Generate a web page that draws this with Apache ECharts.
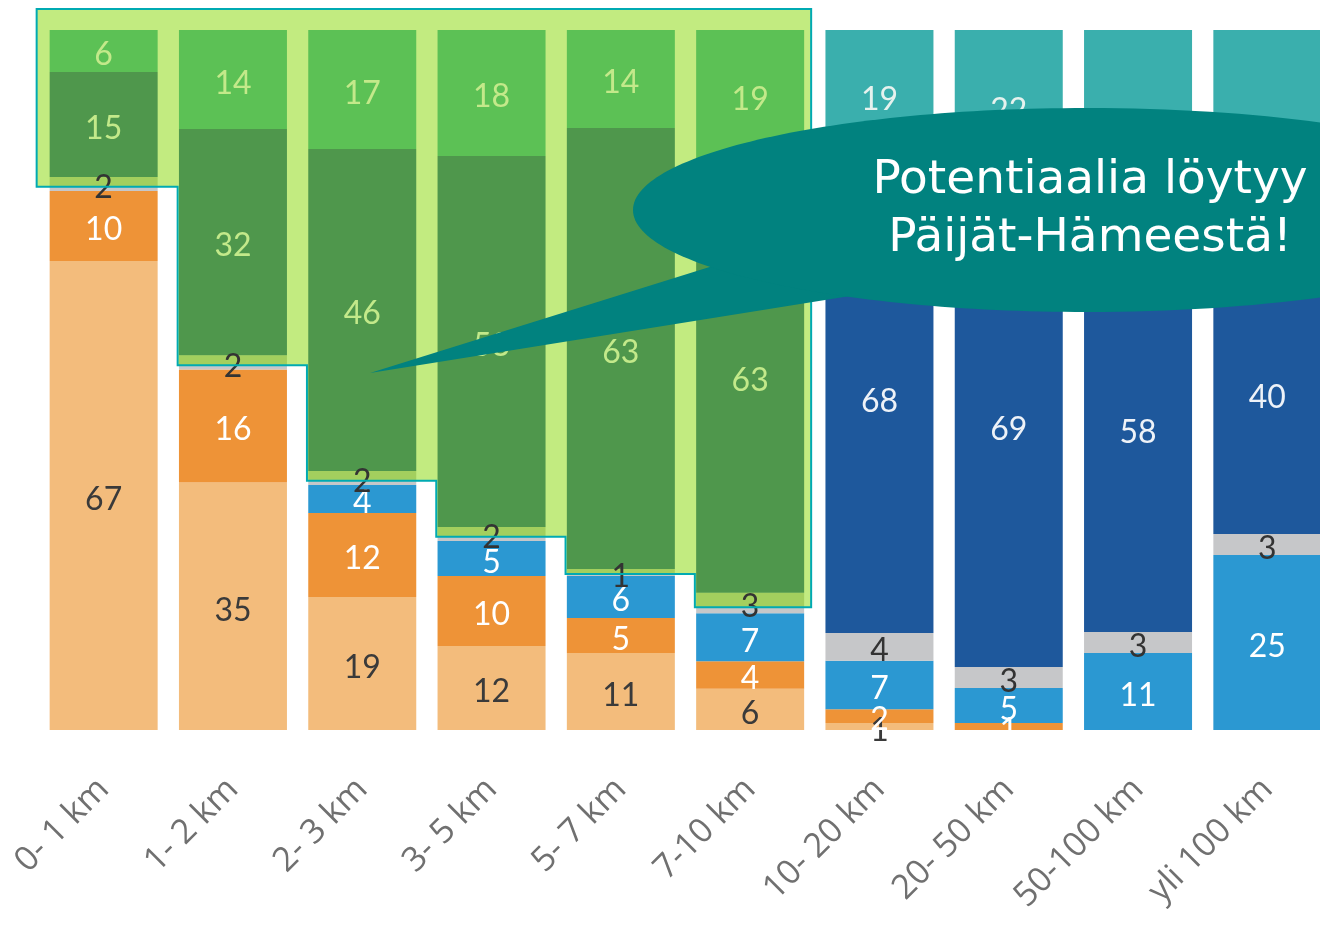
<!DOCTYPE html>
<html><head><meta charset="utf-8">
<script src="https://cdn.jsdelivr.net/npm/echarts@6/dist/echarts.min.js"></script>
<style>html,body{margin:0;padding:0;background:#fff}#c{width:1320px;height:931px}</style>
</head><body><div id="c"></div>
<script>
// ---- data ----
const categories = ['0- 1 km','1- 2 km','2- 3 km','3- 5 km','5- 7 km','7-10 km','10- 20 km','20- 50 km','50-100 km','yli 100 km'];
const walk         = [67,35,19,12,11, 6, 1, 0, 0, 0];
const bike         = [10,16,12,10, 5, 4, 2, 1, 0, 0];
const transit      = [ 0, 0, 4, 5, 6, 7, 7, 5,11,25];
const other        = [ 2, 2, 2, 2, 1, 3, 4, 3, 3, 3];
const carDriver    = [15,32,46,53,63,63,68,69,58,40];
const carPassenger = [ 6,14,17,18,14,19,19,22,28,32];
const highlightCount = 6;
const bubbleLines = ['Potentiaalia löytyy','Päijät-Hämeestä!'];

// ---- styling ----
const C = {
  walk:'#f3bc7c', bike:'#ee9337', transit:'#2b98d2', other:'#c6c7c9',
  driver:'#1e589c', passenger:'#3aafad',
  gDriver:'#4f974c', gPassenger:'#5cc155', gStrip:'#a3cf5e',
  hlFill:'#c2eb80', hlBorder:'#00aab2', bubble:'#01827f'
};
const totals = categories.map((_, i) => walk[i]+bike[i]+transit[i]+other[i]+carDriver[i]+carPassenger[i]);
const LABEL_FONT = 'Lato';

function build(arr, colorFn, labelColorFn) {
  return arr.map((v, i) => ({
    value: v / totals[i] * 100,
    raw: v,
    itemStyle: { color: colorFn(i) },
    label: { show: v > 0, color: labelColorFn(i) }
  }));
}
const hl = i => i < highlightCount;
const grayGrad = {
  type:'linear', x:0, y:0, x2:0, y2:1,
  colorStops:[{offset:0,color:C.gStrip},{offset:0.68,color:C.gStrip},{offset:0.68,color:C.other},{offset:1,color:C.other}]
};

function series(name, arr, colorFn, labelColorFn) {
  return {
    name, type:'bar', stack:'all', barWidth:108,
    data: build(arr, colorFn, labelColorFn),
    label: {
      show:true, position:'inside', offset:[0,4],
      fontFamily: LABEL_FONT, fontSize:32,
      formatter: p => String(p.data.raw)
    },
    emphasis:{disabled:true}
  };
}

const option = {
  animation:false,
  grid:{ left:39, top:30, width:1293, height:700, outerBoundsMode:'none', containLabel:false },
  xAxis:{
    type:'category', data:categories,
    axisLine:{show:false}, axisTick:{show:false},
    axisLabel:{ interval:0, rotate:45, margin:54, fontFamily:'Open Sans', fontSize:34, color:'#707070' }
  },
  yAxis:{ type:'value', min:0, max:100, show:false },
  series:[
    series('Kävely', walk, () => C.walk, () => '#3a3a3a'),
    series('Pyöräily', bike, () => C.bike, () => '#ffffff'),
    series('Joukkoliikenne', transit, () => C.transit, () => '#ffffff'),
    series('Muu', other, i => hl(i) ? grayGrad : C.other, () => '#333333'),
    series('Auto, kuljettaja', carDriver, i => hl(i) ? C.gDriver : C.driver, i => hl(i) ? '#c3e98a' : '#eef2f8'),
    series('Auto, matkustaja', carPassenger, i => hl(i) ? C.gPassenger : C.passenger, i => hl(i) ? '#c3e98a' : '#e6f2ee')
  ]
};

const chart = echarts.init(document.getElementById('c'));
chart.setOption(option);

// ---- highlight outline derived from the stacked data ----
function px(i, v){ return chart.convertToPixel({gridIndex:0}, [i, v]); }
const edgeY = [];
for (let i = 0; i < highlightCount; i++) {
  const v = (walk[i] + bike[i] + transit[i] + 0.3 * other[i]) / totals[i] * 100;
  edgeY.push(px(i, v)[1]);
}
const topY = px(0, 100)[1] - 21;
const leftX = px(0, 0)[0] - 67;
const rightX = px(highlightCount - 1, 0)[0] + 61;
const pts = [[leftX, topY], [rightX, topY], [rightX, edgeY[highlightCount - 1]]];
for (let i = highlightCount - 1; i >= 1; i--) {
  const x = px(i - 1, 0)[0] + 74;
  pts.push([x, edgeY[i]]);
  pts.push([x, edgeY[i - 1]]);
}
pts.push([leftX, edgeY[0]]);

chart.setOption({
  graphic:[
    { type:'polygon', z:0, silent:true, shape:{points:pts}, style:{fill:C.hlFill} },
    { type:'polygon', z:50, silent:true, shape:{points:pts}, style:{fill:'none', stroke:C.hlBorder, lineWidth:2} },
    { type:'polygon', z:100, silent:true, shape:{points:[[370,373],[716,265],[850,296]]}, style:{fill:C.bubble} },
    { type:'ellipse', z:100, silent:true, shape:{cx:1087, cy:210, rx:454, ry:102}, style:{fill:C.bubble} },
    { type:'text', z:101, silent:true, style:{
        text: bubbleLines.join('\n'), x:1090, y:210, align:'center', verticalAlign:'middle',
        font:'47px "DejaVu Sans"', lineHeight:58, fill:'#ffffff' } }
  ]
});
</script></body></html>
